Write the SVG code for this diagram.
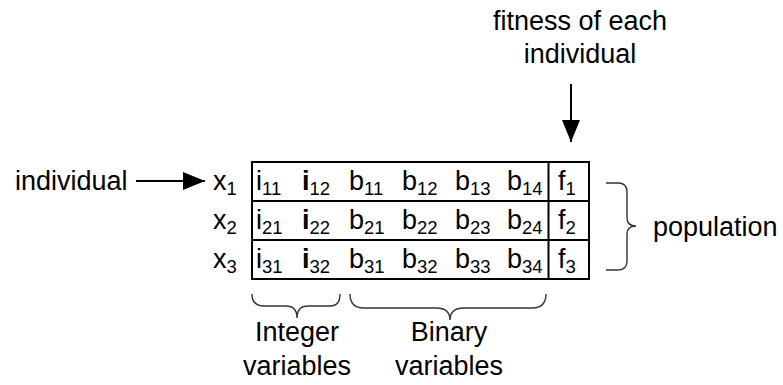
<svg xmlns="http://www.w3.org/2000/svg" width="783" height="385" viewBox="0 0 783 385">
<style>
text{font-family:"Liberation Sans",Arial,sans-serif;font-size:27px;fill:#000}
.s{font-size:18.5px}
.b{font-weight:bold}
.grid{fill:none;stroke:#000;stroke-width:2}
.brace{fill:none;stroke:#333;stroke-width:1.4}
.arr{stroke:#000;stroke-width:2;fill:none}
</style>
<defs>
<marker id="ah" viewBox="0 0 22 18" refX="22" refY="9" markerWidth="22" markerHeight="18" markerUnits="userSpaceOnUse" orient="auto">
<path d="M0,0 L22,9 L0,18 Z" fill="#000"/>
</marker>
</defs>
<g id="connectors">
<line class="arr" x1="136" y1="181" x2="205" y2="181" marker-end="url(#ah)"/>
<line class="arr" x1="571" y1="84" x2="571" y2="142" marker-end="url(#ah)"/>
</g>
<g id="label-individual"><text x="15" y="190">individual</text></g>
<g id="label-fitness">
<text x="580" y="30" text-anchor="middle">fitness of each</text>
<text x="580" y="63" text-anchor="middle">individual</text>
</g>
<g id="row-labels">
<text x="213" y="190">x<tspan class="s" dy="5">1</tspan></text>
<text x="213" y="229">x<tspan class="s" dy="5">2</tspan></text>
<text x="213" y="268">x<tspan class="s" dy="5">3</tspan></text>
</g>
<g id="table">
<rect class="grid" x="252" y="162" width="337" height="117"/>
<line class="grid" x1="252" y1="201" x2="589" y2="201"/>
<line class="grid" x1="252" y1="240" x2="589" y2="240"/>
<line class="grid" x1="548.5" y1="162" x2="548.5" y2="279"/>
<text x="256" y="190">i<tspan class="s" dy="5">11</tspan></text>
<text x="302" y="190"><tspan class="b">i</tspan><tspan class="s" dy="5">12</tspan></text>
<text x="349" y="190">b<tspan class="s" dy="5">11</tspan></text>
<text x="402" y="190">b<tspan class="s" dy="5">12</tspan></text>
<text x="455" y="190">b<tspan class="s" dy="5">13</tspan></text>
<text x="507" y="190">b<tspan class="s" dy="5">14</tspan></text>
<text x="558" y="190">f<tspan class="s" dy="5">1</tspan></text>
<text x="256" y="229">i<tspan class="s" dy="5">21</tspan></text>
<text x="302" y="229"><tspan class="b">i</tspan><tspan class="s" dy="5">22</tspan></text>
<text x="349" y="229">b<tspan class="s" dy="5">21</tspan></text>
<text x="402" y="229">b<tspan class="s" dy="5">22</tspan></text>
<text x="455" y="229">b<tspan class="s" dy="5">23</tspan></text>
<text x="507" y="229">b<tspan class="s" dy="5">24</tspan></text>
<text x="558" y="229">f<tspan class="s" dy="5">2</tspan></text>
<text x="256" y="268">i<tspan class="s" dy="5">31</tspan></text>
<text x="302" y="268"><tspan class="b">i</tspan><tspan class="s" dy="5">32</tspan></text>
<text x="349" y="268">b<tspan class="s" dy="5">31</tspan></text>
<text x="402" y="268">b<tspan class="s" dy="5">32</tspan></text>
<text x="455" y="268">b<tspan class="s" dy="5">33</tspan></text>
<text x="507" y="268">b<tspan class="s" dy="5">34</tspan></text>
<text x="558" y="268">f<tspan class="s" dy="5">3</tspan></text>
</g>
<g id="population">
<path class="brace" d="M606,183 L618,183 Q627,183 627,192 L627,218 Q627,226 636,226 Q627,226 627,234 L627,261 Q627,270 618,270 L606,270"/>
<text x="653" y="236">population</text>
</g>
<g id="integer-vars">
<path class="brace" d="M252,294 Q252,306 264,306 L286,306 Q297,306 297,318 Q297,306 308,306 L330,306 Q340,306 340,294"/>
<text x="297" y="341" text-anchor="middle">Integer</text>
<text x="297" y="375" text-anchor="middle">variables</text>
</g>
<g id="binary-vars">
<path class="brace" d="M350,294 Q350,308 364,308 L436,308 Q450,308 450,320 Q450,308 464,308 L532,308 Q546,308 546,294"/>
<text x="449" y="341" text-anchor="middle">Binary</text>
<text x="449" y="375" text-anchor="middle">variables</text>
</g>
</svg>
